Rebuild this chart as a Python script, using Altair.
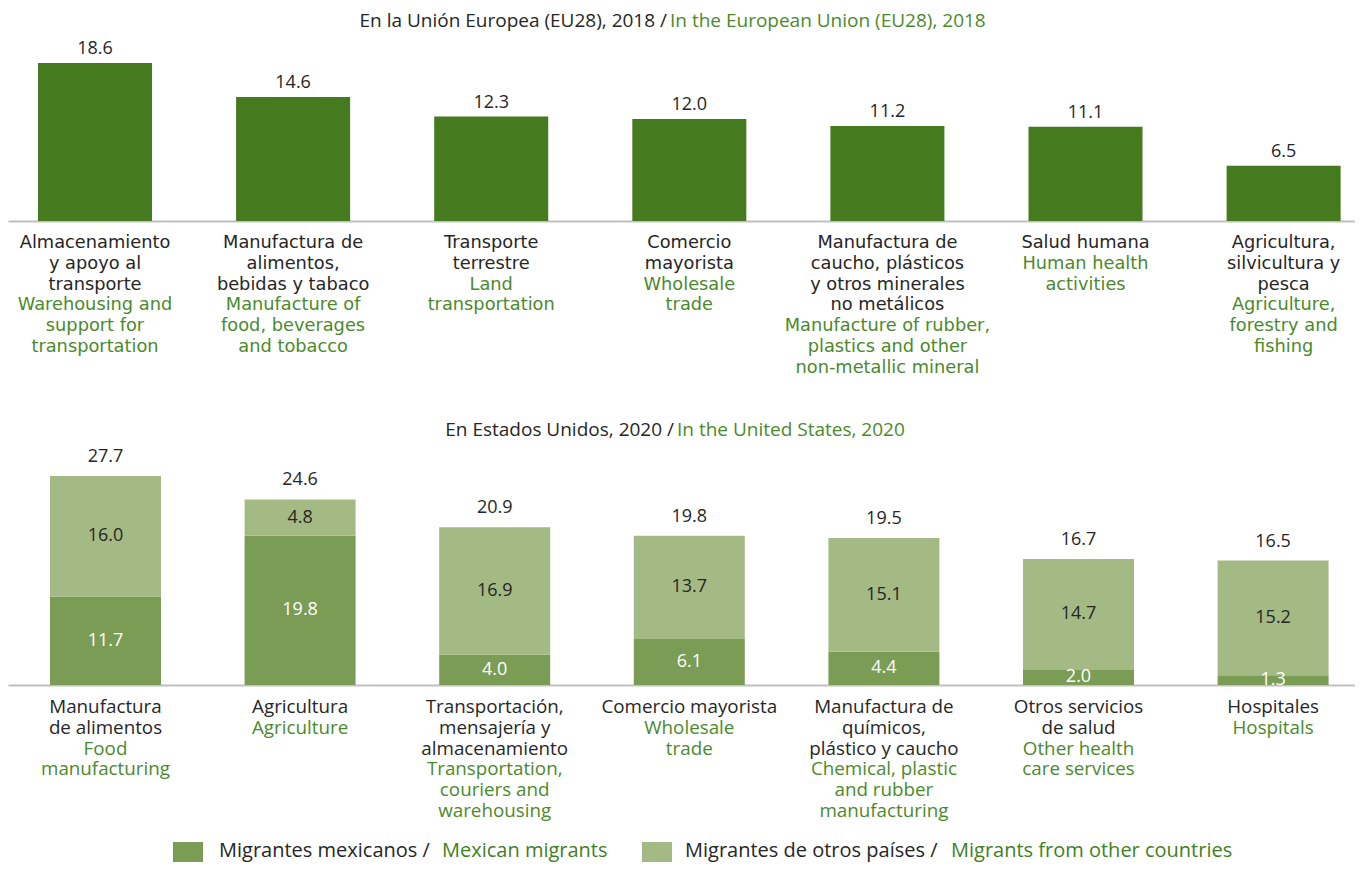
import altair as alt
import pandas as pd

# ---------------- data ----------------
eu_es = ["Almacenamiento\ny apoyo al\ntransporte",
         "Manufactura de\nalimentos,\nbebidas y tabaco",
         "Transporte\nterrestre",
         "Comercio\nmayorista",
         "Manufactura de\ncaucho, plásticos\ny otros minerales\nno metálicos",
         "Salud humana",
         "Agricultura,\nsilvicultura y\npesca"]
eu_en = ["Warehousing and\nsupport for\ntransportation",
         "Manufacture of\nfood, beverages\nand tobacco",
         "Land\ntransportation",
         "Wholesale\ntrade",
         "Manufacture of rubber,\nplastics and other\nnon-metallic mineral",
         "Human health\nactivities",
         "Agriculture,\nforestry and\nfishing"]
eu_values = [18.6, 14.6, 12.3, 12.0, 11.2, 11.1, 6.5]

us_es = ["Manufactura\nde alimentos",
         "Agricultura",
         "Transportación,\nmensajería y\nalmacenamiento",
         "Comercio mayorista",
         "Manufactura de\nquímicos,\nplástico y caucho",
         "Otros servicios\nde salud",
         "Hospitales"]
us_en = ["Food\nmanufacturing",
         "Agriculture",
         "Transportation,\ncouriers and\nwarehousing",
         "Wholesale\ntrade",
         "Chemical, plastic\nand rubber\nmanufacturing",
         "Other health\ncare services",
         "Hospitals"]
us_mexican = [11.7, 19.8, 4.0, 6.1, 4.4, 2.0, 1.3]
us_other = [16.0, 4.8, 16.9, 13.7, 15.1, 14.7, 15.2]
us_totals = [27.7, 24.6, 20.9, 19.8, 19.5, 16.7, 16.5]

series_es = ["Migrantes mexicanos /", "Migrantes de otros países /"]
series_en = ["Mexican migrants", "Migrants from other countries"]

title_eu_es = "En la Unión Europea (EU28), 2018 /"
title_eu_en = "In the European Union (EU28), 2018"
title_us_es = "En Estados Unidos, 2020 /"
title_us_en = "In the United States, 2020"

# ---------------- styles ----------------
W = 1347
DARK = "#262626"
GREEN_TXT = "#4b8a2b"
EU_BAR = "#457a1e"
MEX = "#7b9c55"
OTH = "#a3ba85"
BASE = "#c0c0c0"
F_WIDE = "DejaVu Sans"
F_NARROW = "Open Sans"

eu_keys = [f"e{i}" for i in range(len(eu_values))]
us_keys = [f"u{i}" for i in range(len(us_totals))]


def eu_x(axis):
    return alt.X("key:N", sort=eu_keys, axis=axis,
                 scale=alt.Scale(type="band", paddingInner=0.4245,
                                 paddingOuter=0.112, align=0.676))


def us_x(axis):
    return alt.X("key:N", sort=us_keys, axis=axis,
                 scale=alt.Scale(type="band", paddingInner=0.4296,
                                 paddingOuter=0.1757, align=0.614))


base_axis = alt.Axis(labels=False, ticks=False, title=None, grid=False,
                     domainColor=BASE, domainWidth=2)


def title_row(es, en, split, h, ty):
    d = pd.DataFrame({"es": [es], "en": [en]})
    a = alt.Chart(d).mark_text(align="right", baseline="middle", font=F_NARROW,
                               fontSize=19, color=DARK).encode(
        x=alt.value(split), y=alt.value(ty), text="es:N")
    b = alt.Chart(d).mark_text(align="left", baseline="middle", font=F_NARROW,
                               fontSize=19, color=GREEN_TXT).encode(
        x=alt.value(split + 3), y=alt.value(ty), text="en:N")
    return alt.layer(a, b).properties(width=W, height=h)


def label_rows(keys, es_list, en_list, xfun, h, font, size):
    rows = []
    for k, es, en in zip(keys, es_list, en_list):
        n = 0
        for line in es.split("\n"):
            rows.append({"key": k, "row": n, "line": line, "lang": "es"})
            n += 1
        for line in en.split("\n"):
            rows.append({"key": k, "row": n, "line": line, "lang": "en"})
            n += 1
    d = pd.DataFrame(rows)
    step = 20.8
    a = -22 / step
    b = a + h / step
    return alt.Chart(d).mark_text(baseline="middle", font=font, fontSize=size).encode(
        x=xfun(None),
        y=alt.Y("row:Q", axis=None,
                scale=alt.Scale(domain=[a, b], reverse=True, nice=False, zero=False)),
        text="line:N",
        color=alt.Color("lang:N", legend=None,
                        scale=alt.Scale(domain=["es", "en"], range=[DARK, GREEN_TXT])),
    ).properties(width=W, height=h)


# ---------- EU bars ----------
eu_df = pd.DataFrame({"key": eu_keys, "value": eu_values})
eu_y = alt.Y("value:Q", axis=None, scale=alt.Scale(domain=[0, 21.9], nice=False))
eu_bars = alt.Chart(eu_df).mark_bar(color=EU_BAR).encode(x=eu_x(base_axis), y=eu_y)
eu_text = alt.Chart(eu_df).mark_text(dy=-14, font=F_NARROW, fontSize=18, color=DARK).encode(
    x=eu_x(base_axis), y=eu_y, text=alt.Text("value:Q", format=".1f"))
eu_row = alt.layer(eu_bars, eu_text).properties(width=W, height=186)

# ---------- US bars ----------
us_rows = []
for k, m, o in zip(us_keys, us_mexican, us_other):
    us_rows.append({"key": k, "series": "mex", "order": 0, "value": m})
    us_rows.append({"key": k, "series": "oth", "order": 1, "value": o})
us_df = pd.DataFrame(us_rows)
us_scale_y = alt.Scale(domain=[0, 31.15], nice=False)

stacked = alt.Chart(us_df).transform_stack(
    stack="value", groupby=["key"], as_=["v0", "v1"],
    sort=[alt.SortField("order", "ascending")]
).transform_calculate(mid="(datum.v0 + datum.v1) / 2")

us_bars = stacked.mark_bar().encode(
    x=us_x(base_axis),
    y=alt.Y("v0:Q", axis=None, scale=us_scale_y),
    y2="v1:Q",
    color=alt.Color("series:N", legend=None,
                    scale=alt.Scale(domain=["mex", "oth"], range=[MEX, OTH])),
)
us_seg_text = stacked.mark_text(baseline="middle", font=F_NARROW, fontSize=18).encode(
    x=us_x(base_axis),
    y=alt.Y("mid:Q", axis=None, scale=us_scale_y),
    text=alt.Text("value:Q", format=".1f"),
    color=alt.Color("series:N", legend=None,
                    scale=alt.Scale(domain=["mex", "oth"], range=["#ffffff", DARK])),
)
tot_df = pd.DataFrame({"key": us_keys, "total": us_totals})
us_tot_text = alt.Chart(tot_df).mark_text(dy=-19, baseline="middle", font=F_NARROW,
                                          fontSize=18, color=DARK).encode(
    x=us_x(base_axis),
    y=alt.Y("total:Q", axis=None, scale=us_scale_y),
    text=alt.Text("total:Q", format=".1f"),
)
us_row = alt.layer(us_bars, us_seg_text, us_tot_text).resolve_scale(color="independent").properties(width=W, height=235)

# ---------- legend ----------
leg_df = pd.DataFrame({"es": series_es, "en": series_en, "series": ["mex", "oth"]})
leg_layers = []
for i, (sq_x, es_x, en_x) in enumerate([(165, 211, 434), (634, 677, 943)]):
    d = leg_df.iloc[[i]]
    col = MEX if i == 0 else OTH
    leg_layers.append(alt.Chart(d).mark_rect(color=col).encode(
        x=alt.value(sq_x), x2=alt.value(sq_x + 30), y=alt.value(9), y2=alt.value(29)))
    leg_layers.append(alt.Chart(d).mark_text(align="left", baseline="middle", font=F_NARROW,
                                             fontSize=20, color=DARK).encode(
        x=alt.value(es_x), y=alt.value(18), text="es:N"))
    leg_layers.append(alt.Chart(d).mark_text(align="left", baseline="middle", font=F_NARROW,
                                             fontSize=20, color="#3f7f1f").encode(
        x=alt.value(en_x), y=alt.value(18), text="en:N"))
legend_row = alt.layer(*leg_layers).properties(width=W, height=30)

chart = alt.vconcat(
    title_row(title_eu_es, title_eu_en, 659, 27, 13),
    eu_row,
    label_rows(eu_keys, eu_es, eu_en, eu_x, 188, F_WIDE, 17.8),
    title_row(title_us_es, title_us_en, 666, 41, 21),
    us_row,
    label_rows(us_keys, us_es, us_en, us_x, 148, F_NARROW, 18.8),
    legend_row,
    spacing=0, bounds="flush",
).resolve_scale(x="independent", y="independent", color="independent").configure_view(
    stroke=None).properties(padding=0)

chart.save("out.html", embed_options={"renderer": "svg", "actions": False})
